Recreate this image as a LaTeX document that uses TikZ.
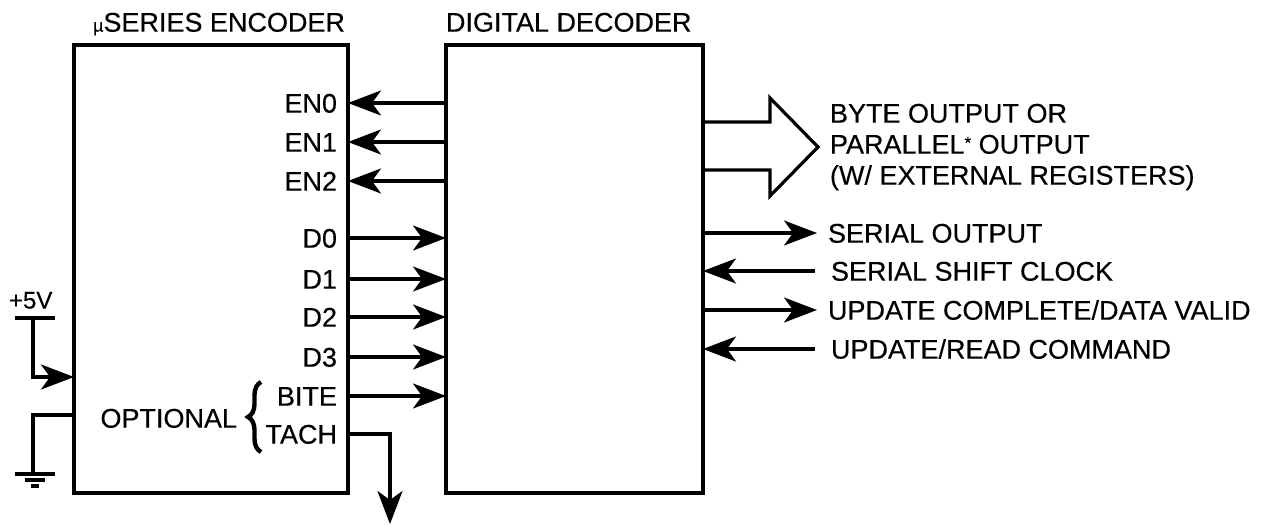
\documentclass[tikz,border=0pt]{standalone}
\usepackage{fontspec}
\setmainfont{Liberation Sans}[FakeBold=0.35]
\usetikzlibrary{arrows.meta,decorations.pathreplacing}
\begin{document}
\begin{tikzpicture}[x=1pt,y=-1pt,
  wire/.style={line width=3.2pt},
  arr/.style={wire,-{Stealth[length=33pt,width=25pt,inset=9pt]}},
  boxs/.style={draw,line width=3.6pt,minimum height=448pt,inner sep=0pt,outer sep=0pt,anchor=north west},
  lbl/.style={inner sep=0pt,outer sep=0pt,text height=19.3pt,text depth=0pt,font=\fontsize{27}{31}\selectfont},
]
\useasboundingbox (0,0) rectangle (1281,527);
% boxes
\node[boxs,minimum width=274pt] (enc) at (74,45) {};
\node[boxs,minimum width=257pt] (dec) at (446,45) {};
% titles
\node[lbl,anchor=east] (enct) at (345,22) {{\fontsize{18}{18}\selectfont µ}SERIES ENCODER};
\node[lbl,anchor=west] (dect) at (446,22) {DIGITAL DECODER};
% encoder pin labels
\foreach \n/\t/\y in {en0/EN0/103, en1/EN1/142, en2/EN2/181, d0/D0/238, d1/D1/279, d2/D2/317, d3/D3/357, bite/BITE/396, tach/TACH/434}
  \node[lbl,anchor=east] (\n) at (337,\y) {\t};
% decoder -> encoder enables
\foreach \n in {en0,en1,en2}
  \draw[arr] (dec.west |- \n) -- (enc.east |- \n);
% encoder -> decoder data
\foreach \n in {d0,d1,d2,d3,bite}
  \draw[arr] (enc.east |- \n) -- (dec.west |- \n);
% tach output
\coordinate (tachend) at (390,524);
\draw[arr] (enc.east |- tach) -| (tachend);
% optional brace
\node[lbl,anchor=east] (opt) at (237,418) {OPTIONAL};
\draw[line width=4.4pt,decorate,decoration={brace,amplitude=13pt}] (261,452) -- (261,382);
% +5V supply
\node[lbl,anchor=west,font=\fontsize{24}{28}\selectfont,text height=17pt] (p5) at (9,300) {+5V};
\coordinate (vbar) at (33,318);
\coordinate (vin) at (74,377);
\draw[wire] (15,318) -- (55,318);
\draw[arr] (vbar) |- (vin);
% ground
\coordinate (gin) at (74,415);
\coordinate (gnd) at (33,474);
\draw[wire] (gin) -| (gnd);
\draw[wire] (15,474) -- (55,474);
\draw[wire] (25,480) -- (45,480);
\draw[wire] (31,486) -- (39,486);
% big output arrow
\draw[wire,line join=miter] (703,122) -- (770,122) -- (770,98) -- (818,147) -- (770,196) -- (770,170) -- (703,170);
\node[lbl,anchor=west] (byte1) at (830,113) {BYTE OUTPUT OR};
\node[lbl,anchor=west] (byte2) at (830,144) {PARALLEL\raisebox{5pt}{\fontsize{17}{17}\selectfont *} OUTPUT};
\node[lbl,anchor=west] (byte3) at (830,175) {(W/ EXTERNAL REGISTERS)};
% serial signals
\node[lbl,anchor=west] (sout) at (828,233) {SERIAL OUTPUT};
\node[lbl,anchor=west] (sclk) at (831,271) {SERIAL SHIFT CLOCK};
\node[lbl,anchor=west] (upd) at (828,310) {UPDATE COMPLETE/DATA VALID};
\node[lbl,anchor=west] (rdc) at (831,349) {UPDATE/READ COMMAND};
\draw[arr] (dec.east |- sout) -- ([xshift=-11pt]sout.west);
\draw[arr] ([xshift=-16pt]sclk.west) -- (dec.east |- sclk);
\draw[arr] (dec.east |- upd) -- ([xshift=-11pt]upd.west);
\draw[arr] ([xshift=-16pt]rdc.west) -- (dec.east |- rdc);
\end{tikzpicture}
\end{document}
